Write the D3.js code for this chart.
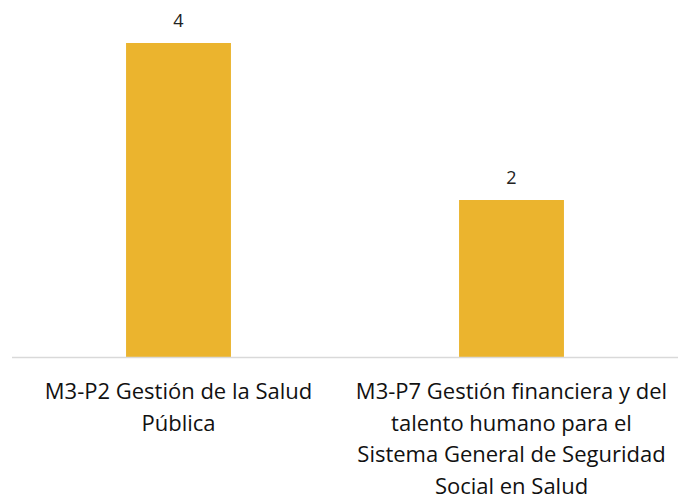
<!DOCTYPE html>
<html>
<head>
<meta charset="utf-8">
<script src="https://cdn.jsdelivr.net/npm/d3@7"></script>
<style>
  body { margin: 0; background: #fff; }
  text { font-family: "Open Sans", sans-serif; }
</style>
</head>
<body>
<div id="chart"></div>
<script>
var w = 680, h = 504;

var categories = ["M3-P2 Gestión de la Salud\nPública",
                  "M3-P7 Gestión financiera y del\ntalento humano para el\nSistema General de Seguridad\nSocial en Salud"];
var values = [4, 2];

var svg = d3.select("#chart").append("svg")
    .attr("width", w)
    .attr("height", h);

var x = d3.scaleBand()
    .domain(categories)
    .range([12, 678])
    .paddingInner(0.685)
    .paddingOuter(0.3425);

var y = d3.scaleLinear()
    .domain([0, 4])
    .range([357, 43]);

// bars
svg.selectAll(".bar")
    .data(values)
    .enter().append("rect")
    .attr("class", "bar")
    .attr("x", function (d, i) { return x(categories[i]); })
    .attr("y", function (d) { return y(d); })
    .attr("width", x.bandwidth())
    .attr("height", function (d) { return y(0) - y(d); })
    .attr("fill", "#ebb42e");

// baseline
svg.append("line")
    .attr("x1", 12).attr("x2", 678)
    .attr("y1", y(0) + 0.5).attr("y2", y(0) + 0.5)
    .attr("stroke", "#d9d9d9")
    .attr("stroke-width", 1.5);

// value labels
svg.selectAll(".val")
    .data(values)
    .enter().append("text")
    .attr("class", "val")
    .attr("x", function (d, i) { return x(categories[i]) + x.bandwidth() / 2; })
    .attr("y", function (d) { return y(d) - 16; })
    .attr("text-anchor", "middle")
    .attr("font-size", 18)
    .attr("fill", "#222")
    .text(function (d) { return d; });

// category labels, one tspan per line
var lineH = 31.7;
svg.selectAll(".cat")
    .data(categories)
    .enter().append("text")
    .attr("class", "cat")
    .attr("text-anchor", "middle")
    .attr("font-size", 22)
    .attr("fill", "#111")
    .each(function (d) {
        var t = d3.select(this),
            cx = x(d) + x.bandwidth() / 2;
        d.split("\n").forEach(function (ln, k) {
            t.append("tspan").attr("x", cx).attr("y", 399 + k * lineH).text(ln);
        });
    });
</script>
</body>
</html>
